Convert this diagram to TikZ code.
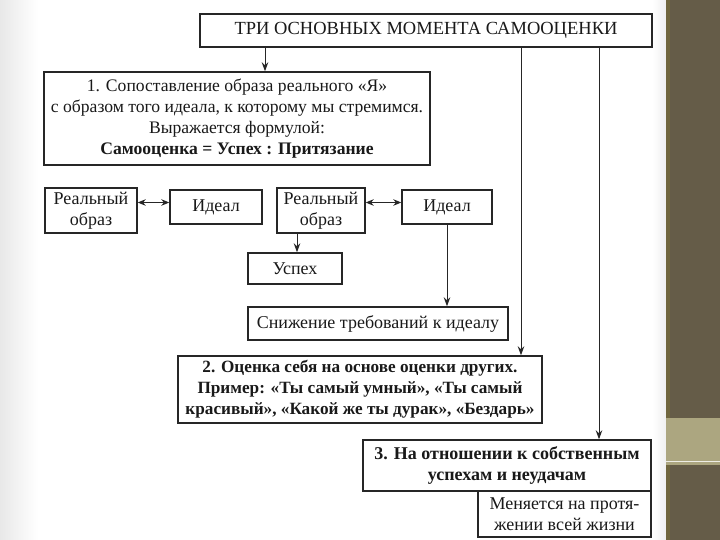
\documentclass[tikz,border=0pt]{standalone}
\usepackage{fontspec}
\setmainfont{Liberation Serif}
\usetikzlibrary{arrows.meta}

\definecolor{bandDark}{RGB}{101,92,72}
\definecolor{bandLight}{RGB}{172,166,128}
\definecolor{bandLine}{RGB}{112,102,62}

\tikzset{
	box/.style={draw=black!85,line width=1.4pt,inner sep=0pt,align=center,text=black!90,font=\fontsize{18}{21}\selectfont},
	arr/.style={draw=black!85,line width=0.9pt,-{Stealth[length=9pt,width=6.5pt]}},
	dbl/.style={draw=black!85,line width=0.9pt,{Stealth[length=8pt,width=6.5pt]}-{Stealth[length=8pt,width=6.5pt]}},
}

\begin{document}
\begin{tikzpicture}[x=1pt,y=-1pt]
			\useasboundingbox (0,0) rectangle (720,540);

			% slide background
			\fill[white] (0,0) rectangle (720,540);
			\shade[left color=black!9,right color=white] (0,0) rectangle (38,540);
			\shade[left color=white,right color=black!6] (652,0) rectangle (666,540);
			\fill[bandDark] (666,0) rectangle (720,540);
			\fill[bandLine] (666,0) rectangle (670,540);
			\fill[bandLight] (666,418) rectangle (720,465);
			\draw[white!80!bandLight,line width=1pt] (666,461) -- (720,461);

			% boxes
			\node[box,minimum width=452pt,minimum height=33pt,font=\fontsize{18.5}{21}\selectfont] (title) at (426,30.5) {ТРИ ОСНОВНЫХ МОМЕНТА САМООЦЕНКИ};
			\node[box,minimum width=386pt,minimum height=93pt,font=\fontsize{17.6}{21}\selectfont] (sopost) at (237,118.5)
				{1. Сопоставление образа реального «Я»\\с образом того идеала, к которому мы стремимся.\\Выражается формулой:\\\textbf{Самооценка = Успех : Притязание}};

			\node[box,minimum width=92pt,minimum height=45pt] (real1) at (91,210.5) {Реальный\\образ};
			\node[box,minimum width=92pt,minimum height=34pt] (ideal1) at (216,207) {Идеал};
			\node[box,minimum width=88pt,minimum height=45pt] (real2) at (321,210.5) {Реальный\\образ};
			\node[box,minimum width=90pt,minimum height=34pt] (ideal2) at (447,207) {Идеал};
			\node[box,minimum width=94pt,minimum height=31pt] (uspeh) at (295,268.5) {Успех};
			\node[box,minimum width=260pt,minimum height=33pt] (snizh) at (378,323.5) {Снижение требований к идеалу};

			\node[box,minimum width=364pt,minimum height=67pt,font=\fontsize{17.2}{21}\selectfont] (ocenka) at (360,389.5)
				{\bfseries 2. Оценка себя на основе оценки других.\\\bfseries Пример: «Ты самый умный», «Ты самый\\\bfseries красивый», «Какой же ты дурак», «Бездарь»};
			\node[box,minimum width=288pt,minimum height=51pt] (otnosh) at (507,465.5)
				{\bfseries 3. На отношении к собственным\\\bfseries успехам и неудачам};
			\node[box,minimum width=173pt,minimum height=46pt] (zhizn) at (564.5,514) {Меняется на протя-\\жении всей жизни};

			% arrows from the title
			\draw[arr] ([xshift=-161pt]title.south) -- ([xshift=-161pt]title.south |- sopost.north);
			\draw[arr] ([xshift=95pt]title.south) -- ([xshift=95pt]title.south |- ocenka.north);
			\draw[arr] ([xshift=173pt]title.south) -- ([xshift=173pt]title.south |- otnosh.north);

			% image comparisons
			\draw[dbl] ([yshift=8pt]real1.east) -- ([yshift=8pt]real1.east -| ideal1.west);
			\draw[dbl] ([yshift=8pt]real2.east) -- ([yshift=8pt]real2.east -| ideal2.west);
			\draw[arr] ([xshift=-24pt]real2.south) -- ([xshift=-24pt]real2.south |- uspeh.north);
			\draw[arr] (ideal2.south) -- (ideal2.south |- snizh.north);

			% \draw[help lines,thin,step=10] (0,0) grid (720,540);
\end{tikzpicture}
\end{document}
